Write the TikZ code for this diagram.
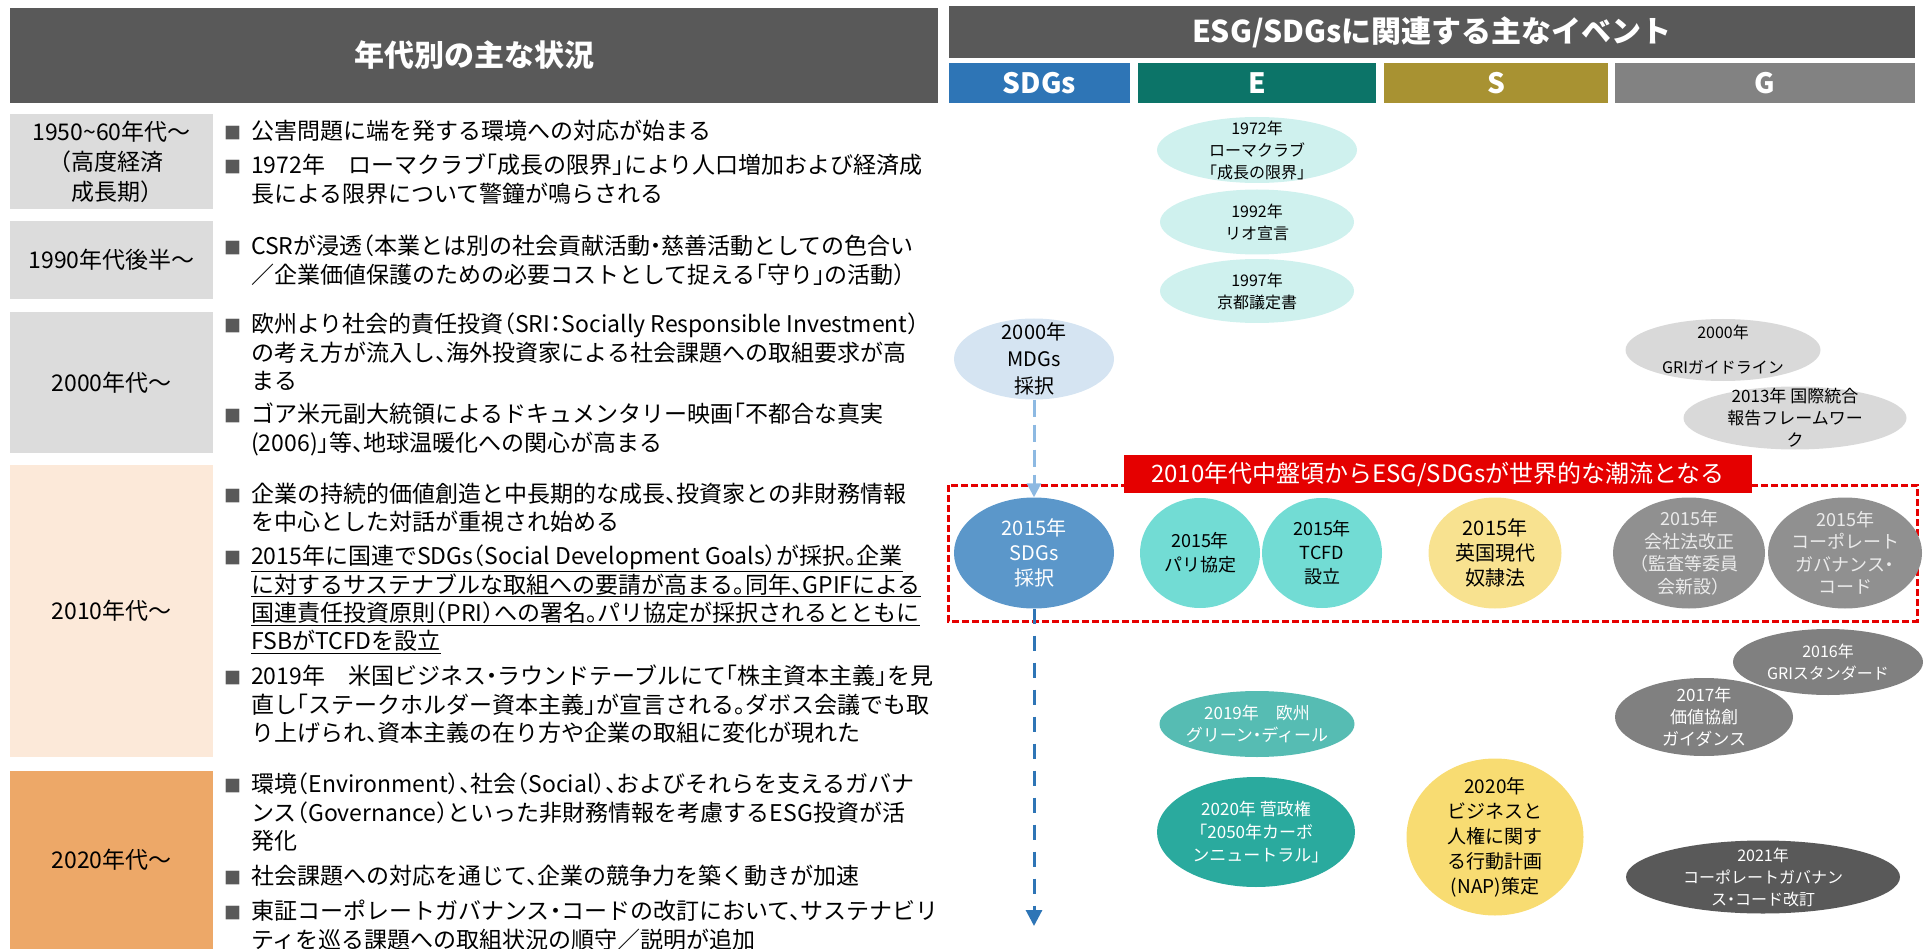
\documentclass[tikz,border=0pt]{standalone}
\usepackage{fontspec}
\setmainfont{Noto Sans CJK JP}[RawFeature=+halt]
\usetikzlibrary{shapes.geometric,arrows.meta}

\definecolor{headgray}{HTML}{595959}
\definecolor{sdgblue}{HTML}{2E75B6}
\definecolor{eteal}{HTML}{0C7468}
\definecolor{solive}{HTML}{A89232}
\definecolor{ggray}{HTML}{828282}
\definecolor{eragray}{HTML}{DCDCDC}
\definecolor{erapeach}{HTML}{FCE9D9}
\definecolor{eraorange}{HTML}{EDA868}
\definecolor{bulgray}{HTML}{595959}
\definecolor{evcyan}{HTML}{CFF1EE}
\definecolor{evlblue}{HTML}{D5E4F2}
\definecolor{evlgray}{HTML}{D9D9D9}
\definecolor{evblue}{HTML}{5B97CA}
\definecolor{evturq}{HTML}{72DCD4}
\definecolor{evyellow}{HTML}{F8E290}
\definecolor{evgray}{HTML}{909090}
\definecolor{evmgray}{HTML}{808080}
\definecolor{evgreen}{HTML}{56BCB3}
\definecolor{evteal}{HTML}{2AAA9E}
\definecolor{evgold}{HTML}{F8DC72}
\definecolor{evdgray}{HTML}{595959}
\definecolor{arrlblue}{HTML}{8DB9E2}
\definecolor{bannerred}{HTML}{E50000}

\newcommand{\bul}{\makebox[27pt][l]{\raisebox{0pt}{\textcolor{bulgray}{\fontsize{17}{17}\selectfont ■}}}}
\newcommand{\ind}{\hspace*{27pt}}
\newcommand{\fs}[2]{\fontsize{#1}{#2}\selectfont}

\tikzset{
  headbox/.style={text=white,font=\bfseries\fs{30}{34},inner sep=0pt},
  catbox/.style={text=white,font=\bfseries\fs{28}{32},inner sep=0pt,minimum height=40},
  erabox/.style={fill=eragray,align=center,font=\fs{23}{30},inner sep=0pt,minimum width=203},
  btxt/.style={anchor=north west,align=left,inner sep=0pt,font=\fs{23}{28.3}},
  evt/.style={ellipse,inner sep=0pt},
  etxt/.style={align=center,inner sep=0pt},
}

\begin{document}
\begin{tikzpicture}[x=1pt,y=-1pt]
\useasboundingbox (0,0) rectangle (1927,949);

% headers
\node[headbox,fill=headgray,minimum width=928,minimum height=95] (lhead) at (474,55.5) {年代別の主な状況};
\node[headbox,fill=headgray,minimum width=966,minimum height=52,font=\bfseries\fs{30}{34}] (rhead) at (1432,32) {ESG/SDGsに関連する主なイベント};
\node[catbox,fill=sdgblue,minimum width=181] (csdg) at (1039.5,83) {SDGs};
\node[catbox,fill=eteal,minimum width=238] (ce) at (1257,83) {E};
\node[catbox,fill=solive,minimum width=224] (cs) at (1496,83) {S};
\node[catbox,fill=ggray,minimum width=300] (cg) at (1765,83) {G};

% era labels
\node[erabox,minimum height=95] (era1) at (111.5,161.5) {1950\textasciitilde 60年代～\\（高度経済\\成長期）};
\node[erabox,minimum height=78] (era2) at (111.5,260) {1990年代後半～};
\node[erabox,minimum height=141] (era3) at (111.5,382.5) {2000年代～};
\node[erabox,fill=erapeach,minimum height=292] (era4) at (111.5,611) {2010年代～};
\node[erabox,fill=eraorange,minimum height=178] (era5) at (111.5,860) {2020年代～};

% bullet texts
\node[btxt] (t1a) at (224,120) {\bul 公害問題に端を発する環境への対応が始まる};
\node[btxt] (t1b) at (224,154) {\bul 1972年　ローマクラブ「成長の限界」により人口増加および経済成\\\ind 長による限界について警鐘が鳴らされる};
\node[btxt] (t2a) at (224,235) {\bul CSRが浸透（本業とは別の社会貢献活動・慈善活動としての色合い\\\ind ／企業価値保護のための必要コストとして捉える「守り」の活動）};
\node[btxt] (t3a) at (224,313) {\bul 欧州より社会的責任投資（SRI：Socially Responsible Investment）\\\ind の考え方が流入し、海外投資家による社会課題への取組要求が高\\\ind まる};
\node[btxt] (t3b) at (224,403) {\bul ゴア米元副大統領によるドキュメンタリー映画「不都合な真実\\\ind (2006)」等、地球温暖化への関心が高まる};
\node[btxt] (t4a) at (224,483) {\bul 企業の持続的価値創造と中長期的な成長、投資家との非財務情報\\\ind を中心とした対話が重視され始める};
\node[btxt] (t4b) at (224,545) {\bul \underline{2015年に国連でSDGs（Social Development Goals）が採択。企業}\\\ind \underline{に対するサステナブルな取組への要請が高まる。同年、GPIFによる}\\\ind \underline{国連責任投資原則（PRI）への署名。パリ協定が採択されるとともに}\\\ind \underline{FSBがTCFDを設立}};
\node[btxt] (t4c) at (224,665) {\bul 2019年　米国ビジネス・ラウンドテーブルにて「株主資本主義」を見\\\ind 直し「ステークホルダー資本主義」が宣言される。ダボス会議でも取\\\ind り上げられ、資本主義の在り方や企業の取組に変化が現れた};
\node[btxt] (t5a) at (224,773) {\bul 環境（Environment）、社会（Social）、およびそれらを支えるガバナ\\\ind ンス（Governance）といった非財務情報を考慮するESG投資が活\\\ind 発化};
\node[btxt] (t5b) at (224,865) {\bul 社会課題への対応を通じて、企業の競争力を築く動きが加速};
\node[btxt] (t5c) at (224,900) {\bul 東証コーポレートガバナンス・コードの改訂において、サステナビリ\\\ind ティを巡る課題への取組状況の順守／説明が追加};

% events before 2010
\node[evt,fill=evcyan,minimum width=200,minimum height=66] (e1972) at (1257,150) {};
\node[etxt,font=\fs{16}{22}] (e1972t) at (e1972) {1972年\\ローマクラブ\\「成長の限界」};
\node[evt,fill=evcyan,minimum width=194,minimum height=65] (e1992) at (1257,222) {};
\node[etxt,font=\fs{16}{22}] (e1992t) at (e1992) {1992年\\リオ宣言};
\node[evt,fill=evcyan,minimum width=194,minimum height=64] (e1997) at (1257,291) {};
\node[etxt,font=\fs{16}{22}] (e1997t) at (e1997) {1997年\\京都議定書};
\node[evt,fill=evlblue,minimum width=160,minimum height=81] (mdgs) at (1034,359) {};
\node[etxt,font=\fs{20}{27}] (mdgst) at (mdgs) {2000年\\MDGs\\採択};
\node[evt,fill=evlgray,minimum width=195,minimum height=62] (gri00) at (1723,350) {};
\node[etxt,font=\fs{16}{22}] (gri00t) at (gri00) {2000年\\[13pt]GRIガイドライン};
\node[evt,fill=evlgray,minimum width=223,minimum height=63] (iirc) at (1795,418) {};
\node[etxt,font=\fs{17}{22}] (iirct) at (iirc) {2013年 国際統合\\報告フレームワー\\ク};

% 2015 frame
\draw[bannerred,line width=3pt,dash pattern=on 7pt off 3pt] (948,485) rectangle (1917,621);
\node[fill=bannerred,text=white,font=\fs{24}{28},minimum width=628,minimum height=38,inner sep=0pt] (banner) at (1438,474) {2010年代中盤頃からESG/SDGsが世界的な潮流となる};

\node[evt,fill=evblue,minimum width=160,minimum height=111] (sdgs15) at (1034,553) {};
\node[etxt,text=white,font=\fs{20}{25}] (sdgs15t) at (sdgs15) {2015年\\SDGs\\採択};
\node[evt,fill=evturq,minimum width=120,minimum height=110] (paris) at (1200,553) {};
\node[etxt,font=\fs{18}{24}] (parist) at (paris) {2015年\\パリ協定};
\node[evt,fill=evturq,minimum width=120,minimum height=110] (tcfd) at (1322,553) {};
\node[etxt,font=\fs{18}{24}] (tcfdt) at (tcfd) {2015年\\TCFD\\設立};
\node[evt,fill=evyellow,minimum width=133,minimum height=111] (slave) at (1495,553) {};
\node[etxt,font=\fs{20}{25}] (slavet) at (slave) {2015年\\英国現代\\奴隷法};
\node[evt,fill=evgray,minimum width=152,minimum height=111] (kaisha) at (1689,553) {};
\node[etxt,text=white!92!black,font=\fs{18}{22.5}] (kaishat) at (kaisha) {2015年\\会社法改正\\（監査等委員\\会新設）};
\node[evt,fill=evgray,minimum width=154,minimum height=111] (cgc15) at (1845,553) {};
\node[etxt,text=white!92!black,font=\fs{18}{22.5}] (cgc15t) at (cgc15) {2015年\\コーポレート\\ガバナンス・\\コード};

% events after 2015
\node[evt,fill=evmgray,minimum width=190,minimum height=66] (gri16) at (1828,662) {};
\node[etxt,text=white,font=\fs{16}{22}] (gri16t) at (gri16) {2016年\\GRIスタンダード};
\node[evt,fill=evmgray,minimum width=178,minimum height=78] (kachi) at (1704,717) {};
\node[etxt,text=white,font=\fs{17}{22}] (kachit) at (kachi) {2017年\\価値協創\\ガイダンス};
\node[evt,fill=evgreen,minimum width=195,minimum height=66] (green) at (1257,724) {};
\node[etxt,text=white,font=\fs{17}{22}] (greent) at (green) {2019年　欧州\\グリーン・ディール};
\node[evt,fill=evteal,minimum width=198,minimum height=110] (suga) at (1256,832) {};
\node[etxt,text=white,font=\fs{17}{23}] (sugat) at (suga) {2020年 菅政権\\「2050年カーボ\\ンニュートラル」};
\node[evt,fill=evgold,minimum width=177,minimum height=157] (nap) at (1495,837) {};
\node[etxt,font=\fs{19}{25}] (napt) at (nap) {2020年\\ビジネスと\\人権に関す\\る行動計画\\(NAP)策定};
\node[evt,fill=evdgray,minimum width=274,minimum height=73] (cg21) at (1763,877) {};
\node[etxt,text=white,font=\fs{16}{22}] (cg21t) at (cg21) {2021年\\コーポレートガバナン\\ス・コード改訂};

% arrows
\draw[arrlblue,line width=3pt,dash pattern=on 17pt off 8pt,-{Triangle[width=14pt,length=14pt]}] (mdgs) -- (sdgs15);
\coordinate (tend) at (1034,926);
\draw[sdgblue,line width=3pt,dash pattern=on 15pt off 12pt,-{Triangle[width=16pt,length=16pt]}] (sdgs15) -- (tend);
\end{tikzpicture}
\end{document}
